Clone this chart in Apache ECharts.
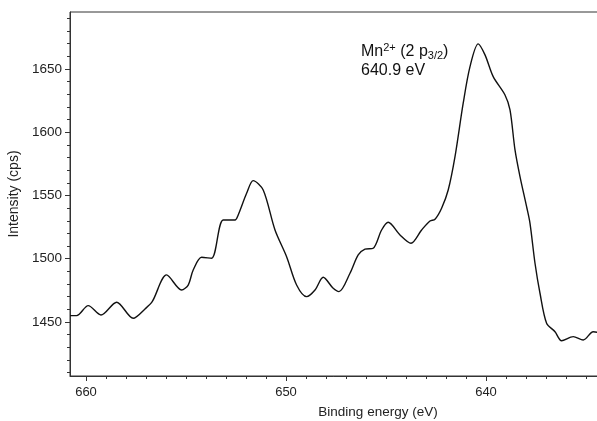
<!DOCTYPE html>
<html>
<head>
<meta charset="utf-8">
<script src="https://cdn.jsdelivr.net/npm/echarts@6/dist/echarts.min.js"></script>
<style>
  html, body { margin: 0; padding: 0; background: #fff; }
  #chart { width: 597px; height: 421px; }
</style>
</head>
<body>
<div id="chart"></div>
<script>
// Mn 2p XPS spectrum: binding energy (eV) vs intensity (cps)
const bindingEnergy = [
  660.80, 660.47, 659.89, 659.25, 658.47, 657.64, 657.05, 656.69, 655.97, 655.22,
  654.89, 654.64, 654.22, 653.72, 653.14, 652.55, 652.39, 651.97, 651.64, 651.14,
  650.55, 649.97, 649.47, 648.97, 648.55, 648.14, 647.64, 647.35, 646.80, 646.39,
  646.05, 645.64, 645.22, 644.89, 644.30, 643.75, 643.22, 642.80, 642.55, 642.22,
  641.89, 641.55, 641.14, 640.80, 640.39, 640.05, 639.64, 639.05, 638.80, 638.55,
  638.30, 637.97, 637.80, 637.55, 637.30, 636.97, 636.55, 636.22, 635.64, 635.14,
  634.64, 634.30
];
const intensity = [
  1455.0, 1455.0, 1462.9, 1455.5, 1465.6, 1452.9, 1460.3, 1466.0, 1487.2, 1475.3,
  1479.2, 1491.1, 1501.1, 1500.4, 1530.6, 1530.6, 1534.6, 1551.7, 1561.7, 1554.3,
  1522.7, 1501.6, 1479.2, 1470.0, 1475.3, 1485.3, 1476.6, 1474.0, 1488.5, 1503.0,
  1507.5, 1508.3, 1522.7, 1528.8, 1518.8, 1512.2, 1522.7, 1529.8, 1531.2, 1539.9,
  1554.3, 1580.7, 1622.9, 1651.8, 1669.8, 1661.1, 1643.9, 1629.4, 1617.6, 1586.0,
  1564.9, 1541.1, 1528.0, 1496.4, 1472.7, 1449.0, 1442.3, 1435.2, 1438.4, 1435.8,
  1442.3, 1441.5
];

// Axis tick positions
const xMajorTicks = [640, 650, 660];
const xMinorTicks = [631, 632, 633, 634, 635, 636, 637, 638, 639, 641, 642, 643, 644, 645,
  646, 647, 648, 649, 651, 652, 653, 654, 655, 656, 657, 658, 659];
const yMajorTicks = [1450, 1500, 1550, 1600, 1650];
const yMinorTicks = [1410, 1420, 1430, 1440, 1460, 1470, 1480, 1490, 1510, 1520, 1530, 1540,
  1560, 1570, 1580, 1590, 1610, 1620, 1630, 1640, 1660, 1670, 1680, 1690];

const peakLabel = ['Mn', '2+', ' (2 p', '3/2', ')', '640.9 eV'];

const FONT = '"Liberation Sans", Arial, Helvetica, sans-serif';
const INK = '#222';
const plain = v => String(v);

const chart = echarts.init(document.getElementById('chart'), null, { renderer: 'canvas' });

const xBase = {
  type: 'value', min: 630, max: 660.8, inverse: true, position: 'bottom', gridIndex: 0,
  splitLine: { show: false }
};
const yBase = {
  type: 'value', min: 1407.3, max: 1695, position: 'left', gridIndex: 0,
  splitLine: { show: false }
};

chart.setOption({
  animation: false,
  backgroundColor: '#fff',
  textStyle: { fontFamily: FONT },
  grid: {
    left: 70, top: 12, width: 616, height: 364,
    outerBoundsMode: 'none',
    containLabel: false,
    show: true, borderColor: '#333', borderWidth: 1, backgroundColor: 'transparent'
  },
  xAxis: [
    Object.assign({}, xBase, {
      name: 'Binding energy (eV)',
      nameLocation: 'middle',
      nameGap: 29,
      nameTextStyle: { fontSize: 13.5, color: INK, fontFamily: FONT },
      axisLine: { show: true, lineStyle: { color: '#333', width: 1 } },
      axisTick: { show: true, inside: false, length: 5, customValues: xMajorTicks, lineStyle: { color: '#333' } },
      axisLabel: { show: true, customValues: xMajorTicks, formatter: plain, fontSize: 13, color: INK, margin: 10, fontFamily: FONT }
    }),
    Object.assign({}, xBase, {
      axisLine: { show: false },
      axisTick: { show: true, inside: false, length: 3, customValues: xMinorTicks, lineStyle: { color: '#333' } },
      axisLabel: { show: false }
    })
  ],
  yAxis: [
    Object.assign({}, yBase, {
      name: 'Intensity (cps)',
      nameLocation: 'middle',
      nameGap: 45,
      nameTextStyle: { fontSize: 14, color: INK, fontFamily: FONT },
      axisLine: { show: true, lineStyle: { color: '#333', width: 1 } },
      axisTick: { show: true, inside: false, length: 5, customValues: yMajorTicks, lineStyle: { color: '#333' } },
      axisLabel: { show: true, customValues: yMajorTicks, formatter: plain, fontSize: 13.5, color: INK, margin: 8, fontFamily: FONT }
    }),
    Object.assign({}, yBase, {
      axisLine: { show: false },
      axisTick: { show: true, inside: false, length: 3, customValues: yMinorTicks, lineStyle: { color: '#333' } },
      axisLabel: { show: false }
    })
  ],
  series: [{
    type: 'line',
    xAxisIndex: 0,
    yAxisIndex: 0,
    data: bindingEnergy.map((e, i) => [e, intensity[i]]),
    showSymbol: false,
    smooth: 0.3,
    lineStyle: { color: '#111', width: 1.4 },
    silent: true
  }],
  graphic: [{
    type: 'text',
    left: 361,
    top: 42,
    style: {
      text: '{a|' + peakLabel[0] + '}{sup|' + peakLabel[1] + '}{a|' + peakLabel[2] + '}{sub|' +
            peakLabel[3] + '}{a|' + peakLabel[4] + '}\n{a|' + peakLabel[5] + '}',
      rich: {
        a: { fontSize: 16, lineHeight: 19, fill: '#111', fontFamily: FONT },
        sup: { fontSize: 11, lineHeight: 14, verticalAlign: 'top', fill: '#111', fontFamily: FONT },
        sub: { fontSize: 11, lineHeight: 11, verticalAlign: 'bottom', fill: '#111', fontFamily: FONT }
      }
    }
  }]
});
</script>
</body>
</html>
